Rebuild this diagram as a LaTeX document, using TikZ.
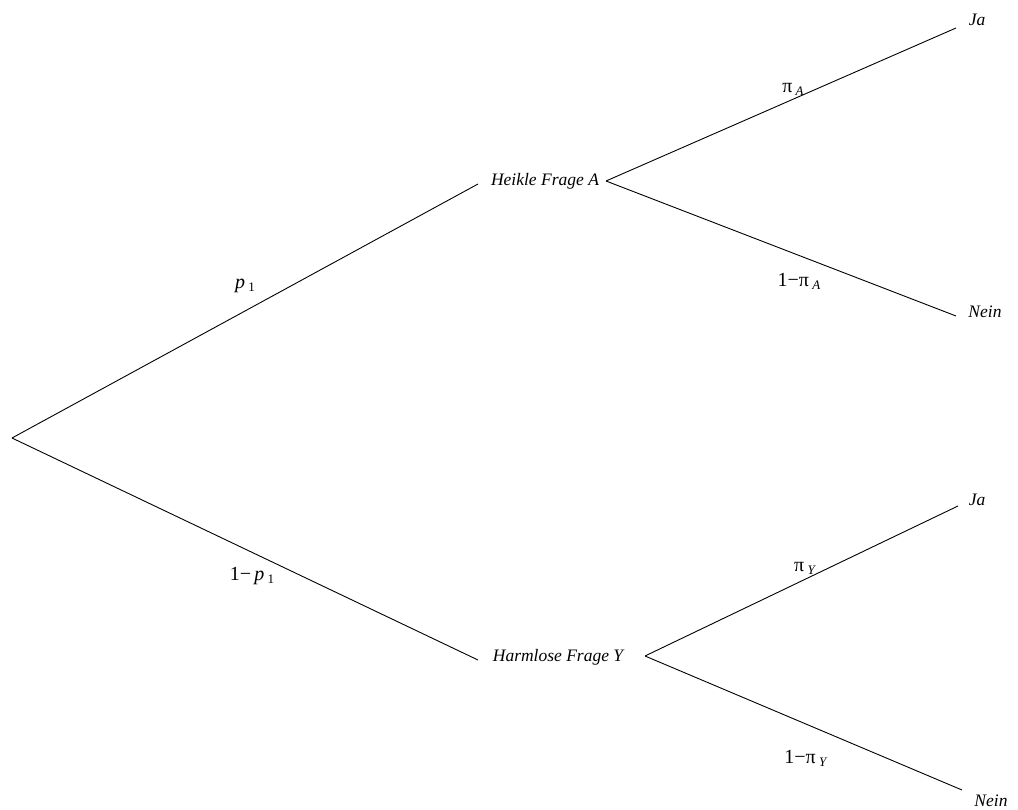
\documentclass[tikz,border=0pt]{standalone}
\usepackage{fontspec}
\setmainfont{Liberation Serif}
\newcommand{\sbs}[1]{\raisebox{-3pt}{\fontsize{13}{13}\selectfont #1}}
\begin{document}
\begin{tikzpicture}[x=1pt,y=-1pt,
  lbl/.style={font=\fontsize{17.5}{20}\selectfont\itshape, inner sep=0pt},
  prob/.style={font=\fontsize{20}{22}\selectfont, inner sep=0pt},
  edge/.style={draw=black, line width=0.9pt}]
\useasboundingbox (0,0) rectangle (1018,810);
\coordinate (root) at (12,438);
\node[lbl] (A) at (545,181) {Heikle Frage A};
\node[lbl] (Y) at (558,657) {Harmlose Frage Y};
\coordinate (Ain) at (478,184);
\coordinate (Aout) at (606,181);
\coordinate (Yin) at (478,660);
\coordinate (Yout) at (645,656);
\coordinate (e1) at (956,28);
\coordinate (e2) at (956,316);
\coordinate (e3) at (958,506);
\coordinate (e4) at (962,790);
\node[lbl] (ja1) at (977,20) {Ja};
\node[lbl] (nein1) at (985,312) {Nein};
\node[lbl] (ja2) at (977,500) {Ja};
\node[lbl] (nein2) at (991,801) {Nein};
\draw[edge] (root) -- (Ain);
\draw[edge] (root) -- (Yin);
\draw[edge] (Aout) -- (e1);
\draw[edge] (Aout) -- (e2);
\draw[edge] (Yout) -- (e3);
\draw[edge] (Yout) -- (e4);
\node[prob] (l1) at (245,286) {\textit{p}\,\sbs{1}};
\node[prob] (l2) at (252,576) {1−\,\textit{p}\,\sbs{1}};
\node[prob] (l3) at (793,89) {π\,\sbs{\textit{A}}};
\node[prob] (l4) at (799,281) {1−π\,\sbs{\textit{A}}};
\node[prob] (l5) at (805,568) {π\,\sbs{\textit{Y}}};
\node[prob] (l6) at (806,758) {1−π\,\sbs{\textit{Y}}};
\end{tikzpicture}
\end{document}
